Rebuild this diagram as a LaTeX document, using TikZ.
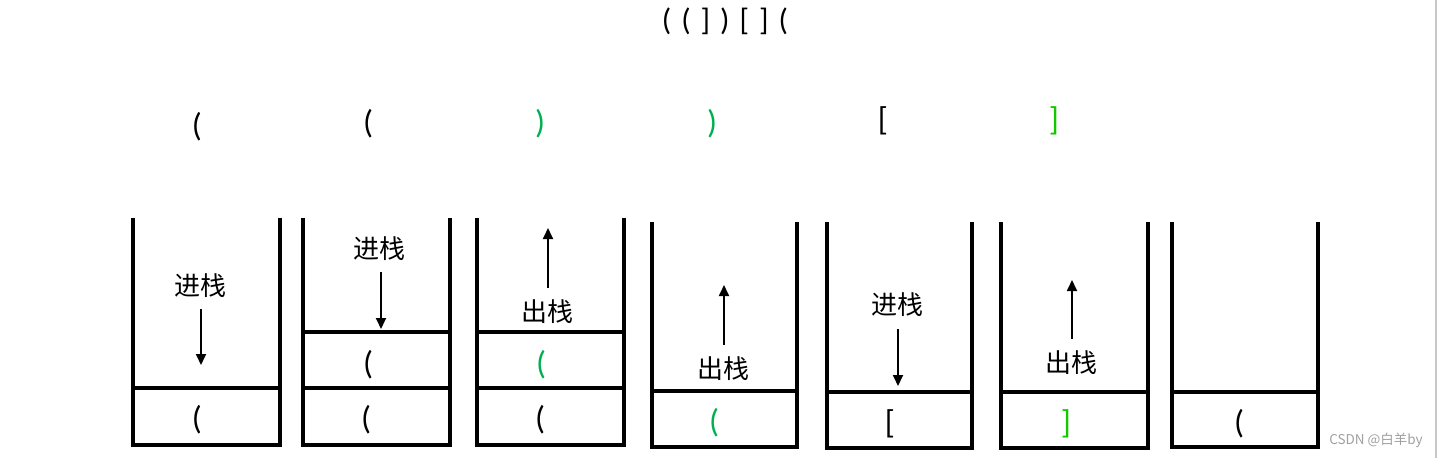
\documentclass[tikz,border=0pt]{standalone}
\usepackage{fontspec}
\setmainfont{Carlito}
\newfontfamily\cjk{Noto Sans CJK SC}
\usetikzlibrary{arrows.meta}
\definecolor{pgreen}{RGB}{0,176,80}
\definecolor{bgreen}{RGB}{20,200,0}
\definecolor{wm}{RGB}{160,160,160}
\definecolor{edge}{RGB}{200,200,200}
\tikzset{
  stackline/.style={line width=3.2pt},
  arr/.style={line width=1.8pt,-{Triangle[length=11pt,width=10pt]}},
  br/.style={inner sep=0pt,font=\fontsize{33}{36}\selectfont},
  lab/.style={inner sep=0pt,font=\cjk\fontsize{26}{30}\selectfont},
}
\begin{document}
\begin{tikzpicture}[x=1pt,y=-1pt]
\useasboundingbox (0,0) rectangle (1438,458);
\draw[edge,line width=1.5pt] (1436,0) -- (1436,458);
% title
\node[inner sep=0pt,font=\fontsize{31}{34}\selectfont] (title) at (725,21) {\spaceskip=10pt ( ( ] ) [ ] (};
% top row
\node[br] (t1) at (197,127) {(};
\node[br] (t2) at (368,124) {(};
\node[br,text=pgreen] (t3) at (540,124) {)};
\node[br,text=pgreen] (t4) at (712,124) {)};
\node[br] (t5) at (883,121) {[};
\node[br,text=bgreen] (t6) at (1054,121) {]};
% stack 1
\draw[stackline] (133,218) -- (133,445) -- (280,445) -- (280,218);
\draw[stackline] (133,388) -- (280,388);
\node[lab] (l1) at (200,286) {进栈};
\coordinate (a1s) at (201,309); \coordinate (a1e) at (201,365);
\draw[arr] (a1s) -- (a1e);
\node[br] (s1a) at (197,420) {(};
% stack 2
\draw[stackline] (303,218) -- (303,445) -- (450,445) -- (450,218);
\draw[stackline] (303,388) -- (450,388);
\draw[stackline] (303,332) -- (452,332);
\node[lab] (l2) at (379,249) {进栈};
\coordinate (a2s) at (381,272); \coordinate (a2e) at (381,329);
\draw[arr] (a2s) -- (a2e);
\node[br] (s2b) at (368,365) {(};
\node[br] (s2a) at (366,420) {(};
% stack 3
\draw[stackline] (477,218) -- (477,445) -- (624,445) -- (624,218);
\draw[stackline] (477,388) -- (624,388);
\draw[stackline] (477,332) -- (626,332);
\node[lab] (l3) at (547,312) {出栈};
\coordinate (a3s) at (548,288); \coordinate (a3e) at (548,228);
\draw[arr] (a3s) -- (a3e);
\node[br,text=pgreen] (s3b) at (541,365) {(};
\node[br] (s3a) at (540,420) {(};
% stack 4
\draw[stackline] (652,222) -- (652,447) -- (797,447) -- (797,222);
\draw[stackline] (652,391) -- (797,391);
\node[lab] (l4) at (723,369) {出栈};
\coordinate (a4s) at (724,345); \coordinate (a4e) at (724,285);
\draw[arr] (a4s) -- (a4e);
\node[br,text=pgreen] (s4a) at (714,423) {(};
% stack 5
\draw[stackline] (827,222) -- (827,448) -- (972,448) -- (972,222);
\draw[stackline] (827,392) -- (972,392);
\node[lab] (l5) at (897,305) {进栈};
\coordinate (a5s) at (898,329); \coordinate (a5e) at (898,386);
\draw[arr] (a5s) -- (a5e);
\node[br] (s5a) at (890,424) {[};
% stack 6
\draw[stackline] (1001,222) -- (1001,448) -- (1148,448) -- (1148,222);
\draw[stackline] (1001,392) -- (1148,392);
\node[lab] (l6) at (1071,363) {出栈};
\coordinate (a6s) at (1072,339); \coordinate (a6e) at (1072,280);
\draw[arr] (a6s) -- (a6e);
\node[br,text=bgreen] (s6a) at (1066,424) {]};
% stack 7
\draw[stackline] (1172,222) -- (1172,447) -- (1318,447) -- (1318,222);
\draw[stackline] (1172,392) -- (1318,392);
\node[br] (s7a) at (1239,424) {(};
% watermark
\node[inner sep=0pt,text=wm,font=\cjk\fontsize{13.5}{15}\selectfont] (wmk) at (1376,440) {CSDN @白羊by};
\end{tikzpicture}
\end{document}
